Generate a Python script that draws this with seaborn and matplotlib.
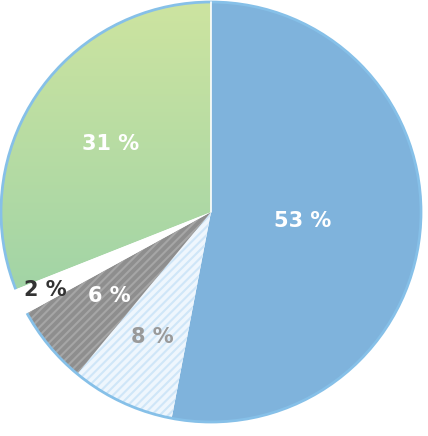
import numpy as np
import matplotlib.pyplot as plt
import seaborn as sns
from matplotlib.colors import LinearSegmentedColormap

sns.set_style("white")
plt.rcParams['font.family'] = ['DejaVu Sans']
plt.rcParams['hatch.linewidth'] = 1.5

shares = [53, 8, 6, 2, 31]
labels = ['53 %', '8 %', '6 %', '2 %', '31 %']
colors = ['#7fb3dc', '#eef6fd', '#8e8e8e', '#ffffff', '#9dd4a8']
hatch_colors = [None, '#cfe6f8', '#a6a6a6', None, None]
label_colors = ['white', '#999999', 'white', '#333333', 'white']
label_r = [0.44, 0.66, 0.63, 0.87, 0.58]

fig = plt.figure(figsize=(4.28, 4.36), dpi=100)
ax = fig.add_axes([0, 0, 1, 1])

wedges, _ = ax.pie(shares, startangle=90, counterclock=False, colors=colors,
                   radius=1, wedgeprops=dict(linewidth=0))

# hatching
for w, hc in zip(wedges, hatch_colors):
    if hc:
        w.set_hatch('////')
        w.set_edgecolor(hc)
        w.set_linewidth(0)

# gradient for the green slice
green = LinearSegmentedColormap.from_list('g', ['#8ecda9', '#cde4a0'])
grad = np.linspace(0, 1, 256).reshape(-1, 1)
im = ax.imshow(grad, cmap=green, origin='lower', extent=[-1, 0, -1, 1], zorder=2, aspect='auto')
im.set_clip_path(wedges[4])

# outline
circle = plt.Circle((0, 0), 1, fill=False, edgecolor='#86c0e8', linewidth=2, zorder=3)
ax.add_patch(circle)
# white slice drawn over outline
wedges[3].set_zorder(4)
wedges[3].set_radius(1.03)
ax.plot([0, 0], [0, 1], color='white', lw=1.2, zorder=3)

for w, lab, c, r in zip(wedges, labels, label_colors, label_r):
    ang = np.deg2rad((w.theta1 + w.theta2) / 2)
    ax.text(r * np.cos(ang), r * np.sin(ang), lab, color=c, fontsize=15,
            fontweight='bold', ha='center', va='center', zorder=5)

ax.set_xlim(-211 / 210, (428 - 211) / 210)
ax.set_ylim(-(436 - 212) / 210, 212 / 210)
ax.set_aspect('equal')
ax.axis('off')

fig.savefig('out.png', dpi=100)
